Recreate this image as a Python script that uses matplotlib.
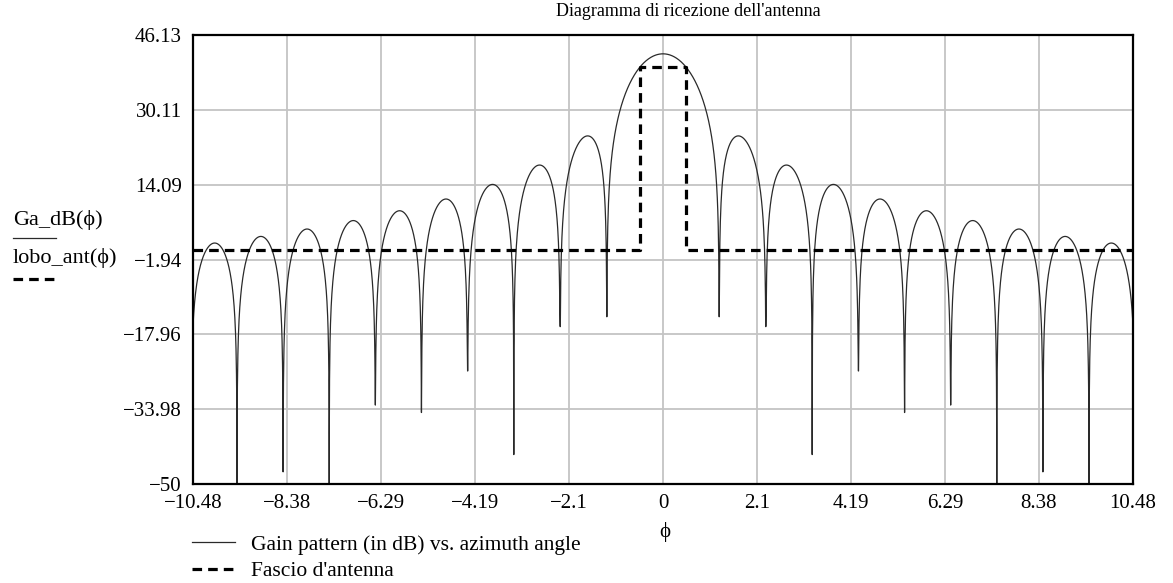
import numpy as np
import matplotlib
matplotlib.use('Agg')
import matplotlib.pyplot as plt
from matplotlib.lines import Line2D

plt.rcParams['font.family'] = ['Liberation Serif', 'DejaVu Serif']
plt.rcParams['font.size'] = 15

# axis ranges and tick labels as shown by the plot
x_ticks = [-10.48, -8.38, -6.29, -4.19, -2.1, 0, 2.1, 4.19, 6.29, 8.38, 10.48]
y_ticks = [-50, -33.98, -17.96, -1.94, 14.09, 30.11, 46.13]

peak_gain_dB = 42.1        # top of the main lobe
first_null_phi = 1.253     # first zero of the pattern
# depth of the drawn spike at each null, from the centre outwards
null_depth = [-14.2, -16.3, -43.7, -25.8, -34.7, -33.1, -50.0, -47.4, -50.0, -50.0]

# lobo_ant: rectangular beam
beam_half_width = 0.52
beam_level_in = 39.3
beam_level_out = 0.0

# zeros of J1 (circular aperture pattern 2*J1(u)/u)
j1_zeros = np.array([3.8317, 7.0156, 10.1735, 13.3237, 16.4706, 19.6159,
                     22.7601, 25.9037, 29.0468, 32.1897])


def bessel_j1(u):
    tau = np.linspace(0, np.pi, 401)
    f = np.cos(tau[None, :] - u[:, None] * np.sin(tau[None, :]))
    return np.trapezoid(f, tau, axis=1) / np.pi


k = j1_zeros[0] / first_null_phi
nulls = j1_zeros / k
phi = np.linspace(x_ticks[0], x_ticks[-1], 4001)
phi = np.sort(np.concatenate([phi, nulls, -nulls]))
phi = phi[(phi >= x_ticks[0]) & (phi <= x_ticks[-1])]
u = k * phi
safe_u = np.where(np.abs(u) < 1e-9, 1e-9, u)
amp = np.where(np.abs(u) < 1e-9, 1.0, 2 * bessel_j1(safe_u) / safe_u)
Ga_dB = peak_gain_dB + 20 * np.log10(np.abs(amp) + 1e-300)

# limit each spike to the depth seen in the picture
idx = np.argmin(np.abs(np.abs(phi)[:, None] - nulls[None, :]), axis=1)
Ga_dB = np.maximum(Ga_dB, np.array(null_depth)[idx])

lobo_phi = [x_ticks[0], -beam_half_width, -beam_half_width,
            beam_half_width, beam_half_width, x_ticks[-1]]
lobo_ant = [beam_level_out, beam_level_out, beam_level_in,
            beam_level_in, beam_level_out, beam_level_out]

W, H = 1173, 583
fig = plt.figure(figsize=(W / 100, H / 100), dpi=100)
ax = fig.add_axes([193 / W, 1 - 484 / H, 940 / W, 449 / H])

l1, = ax.plot(phi, Ga_dB, color='#2a2a2a', lw=0.9)
l2, = ax.plot(lobo_phi, lobo_ant, color='black', lw=2.3, dashes=(3, 1.9))

ax.set_xlim(x_ticks[0], x_ticks[-1])
ax.set_ylim(y_ticks[0], y_ticks[-1])
ax.set_xticks(x_ticks)
ax.set_xticklabels([('%g' % v).replace('-', '\u2212') for v in x_ticks])
ax.set_yticks(y_ticks)
ax.set_yticklabels([('%g' % v).replace('-', '\u2212') for v in y_ticks])
ax.tick_params(length=0, labelsize=15)
ax.tick_params(axis='x', pad=7)
ax.tick_params(axis='y', pad=8)
ax.grid(True, color='#c4c4c4', lw=1.3)
ax.set_axisbelow(True)
for s in ax.spines.values():
    s.set_linewidth(1.6)
    s.set_color('black')

fig.text(688 / W, 1 - 12 / H, "Diagramma di ricezione dell'antenna",
         ha='center', va='center', fontsize=13)
fig.text(665 / W, 1 - 532 / H, '\u03d5', ha='center', va='center', fontsize=15)

# trace names on the left
fig.text(13 / W, 1 - 220 / H, 'Ga_dB(\u03d5)', ha='left', va='center', fontsize=16)
fig.add_artist(Line2D([13 / W, 56 / W], [1 - 238 / H, 1 - 238 / H],
                      color='#2a2a2a', lw=0.9, transform=fig.transFigure))
fig.text(13 / W, 1 - 258 / H, 'lobo_ant(\u03d5)', ha='left', va='center', fontsize=16)
fig.add_artist(Line2D([13 / W, 58 / W], [1 - 279 / H, 1 - 279 / H],
                      color='black', lw=2.3, dashes=(3, 1.9),
                      transform=fig.transFigure))

fig.legend([l1, l2], ['Gain pattern (in dB) vs. azimuth angle', "Fascio d'antenna"],
           loc='center left', bbox_to_anchor=(181 / W, 1 - 558 / H), frameon=False,
           handlelength=2.0, handletextpad=0.75, labelspacing=0.3,
           borderpad=0.0, fontsize=15.5)

fig.savefig('out.png', dpi=100)
